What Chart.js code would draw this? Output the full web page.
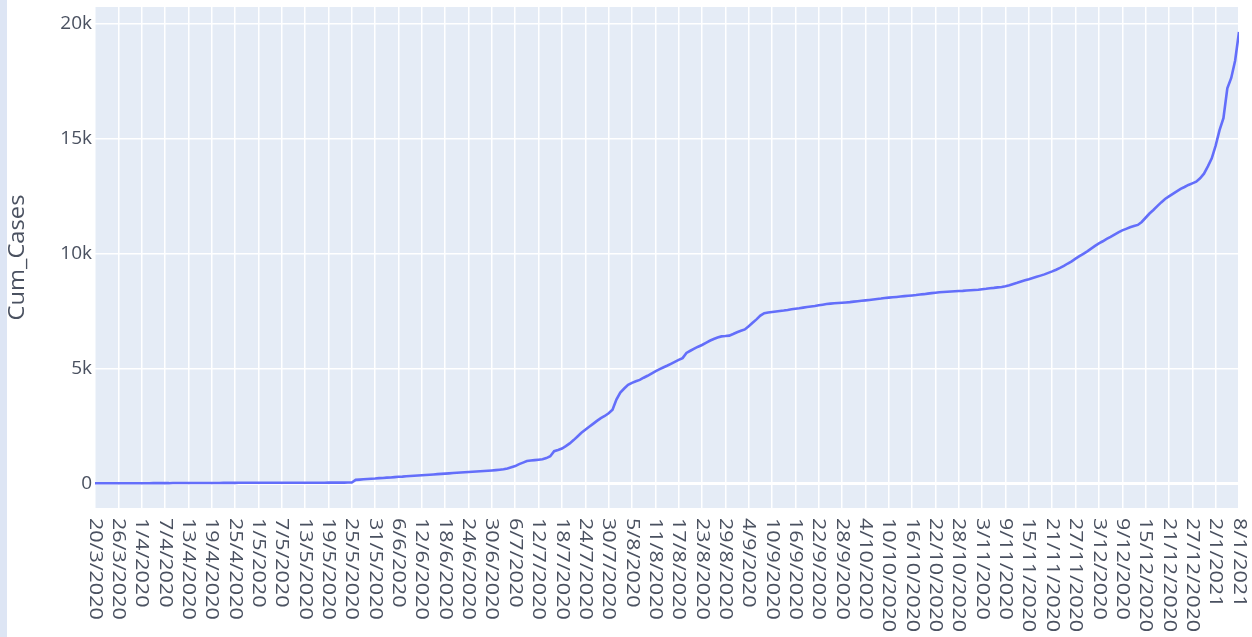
<!DOCTYPE html>
<html>
<head>
<meta charset="utf-8">
<script src="https://cdn.jsdelivr.net/npm/chart.js@4.4.1/dist/chart.umd.min.js"></script>
<style>
  html, body { margin: 0; padding: 0; background: #fff; }
  #wrap { position: relative; width: 1252px; height: 637px; overflow: hidden; }
  #strip { position: absolute; left: 0; top: 0; width: 7px; height: 637px; background: #dde5f4; }
  canvas { position: absolute; left: 0; top: 0; }
</style>
</head>
<body>
<div id="wrap">
  <canvas id="cumChart" width="1252" height="637"></canvas>
  <div id="strip"></div>
</div>
<script>
// tick labels on the date axis, one every 6 days (20/3/2020 .. 8/1/2021)
var tickLabels = [
  '20/3/2020', '26/3/2020', '1/4/2020', '7/4/2020', '13/4/2020', '19/4/2020', '25/4/2020',
  '1/5/2020', '7/5/2020', '13/5/2020', '19/5/2020', '25/5/2020', '31/5/2020', '6/6/2020',
  '12/6/2020', '18/6/2020', '24/6/2020', '30/6/2020', '6/7/2020', '12/7/2020', '18/7/2020',
  '24/7/2020', '30/7/2020', '5/8/2020', '11/8/2020', '17/8/2020', '23/8/2020', '29/8/2020',
  '4/9/2020', '10/9/2020', '16/9/2020', '22/9/2020', '28/9/2020', '4/10/2020', '10/10/2020',
  '16/10/2020', '22/10/2020', '28/10/2020', '3/11/2020', '9/11/2020', '15/11/2020',
  '21/11/2020', '27/11/2020', '3/12/2020', '9/12/2020', '15/12/2020', '21/12/2020',
  '27/12/2020', '2/1/2021', '8/1/2021'
];

// cumulative cases, one value per day from 20/3/2020
var cumCases = [
  0, 0, 0, 0, 0, 0, 0, 0, 0, 0,
  3, 4, 4, 4, 4, 6, 6, 6, 6, 6,
  13, 13, 13, 13, 13, 13, 13, 15, 15, 16,
  16, 16, 16, 20, 20, 20, 20, 22, 22, 22,
  22, 22, 22, 22, 22, 23, 23, 23, 23, 23,
  24, 24, 24, 24, 24, 24, 25, 25, 25, 25,
  29, 29, 30, 30, 30, 35, 35, 150, 162, 174,
  185, 199, 209, 224, 233, 247, 256, 271, 283, 292,
  305, 316, 329, 340, 352, 363, 376, 387, 399, 410,
  422, 433, 446, 457, 468, 480, 491, 503, 514, 524,
  535, 547, 561, 576, 592, 610, 648, 702, 750, 838,
  902, 968, 990, 1008, 1027, 1045, 1098, 1176, 1398, 1452,
  1513, 1618, 1739, 1881, 2037, 2198, 2331, 2462, 2589, 2718,
  2838, 2931, 3052, 3204, 3648, 3951, 4129, 4287, 4372, 4441,
  4502, 4598, 4683, 4779, 4877, 4962, 5041, 5118, 5203, 5288,
  5372, 5451, 5678, 5772, 5861, 5949, 6024, 6118, 6207, 6281,
  6349, 6398, 6412, 6431, 6502, 6579, 6641, 6702, 6843, 6992,
  7139, 7301, 7409, 7441, 7462, 7483, 7502, 7521, 7548, 7579,
  7601, 7622, 7650, 7679, 7701, 7722, 7751, 7779, 7808, 7824,
  7839, 7851, 7862, 7876, 7889, 7911, 7929, 7948, 7966, 7984,
  8004, 8026, 8044, 8066, 8084, 8101, 8115, 8131, 8149, 8166,
  8181, 8199, 8221, 8236, 8259, 8281, 8298, 8316, 8329, 8341,
  8352, 8361, 8372, 8381, 8394, 8406, 8417, 8431, 8452, 8469,
  8491, 8509, 8532, 8551, 8582, 8628, 8681, 8732, 8789, 8841,
  8889, 8942, 8991, 9043, 9098, 9162, 9228, 9301, 9379, 9468,
  9571, 9668, 9782, 9889, 9993, 10102, 10219, 10338, 10451, 10539,
  10642, 10731, 10829, 10928, 11012, 11079, 11148, 11203, 11251, 11382,
  11563, 11748, 11902, 12068, 12231, 12379, 12491, 12602, 12708, 12819,
  12902, 12991, 13062, 13131, 13279, 13482, 13798, 14152, 14703, 15381,
  15902, 17198, 17652, 18399, 19652
];

var yTicks = [0, 5000, 10000, 15000, 20000];
var yTitle = 'Cum_Cases';

var textColor = '#4a5160';
var stretch = 1.13; // the reference text is a bit taller than wide

// plot background
var plotBg = {
  id: 'plotBg',
  beforeDraw: function(chart) {
    var a = chart.chartArea, ctx = chart.ctx;
    ctx.save();
    ctx.fillStyle = '#E5ECF6';
    ctx.fillRect(a.left, a.top, a.right - a.left, a.bottom - a.top);
    ctx.restore();
  }
};

// date labels read top to bottom, and the y title
var sideText = {
  id: 'sideText',
  afterDraw: function(chart) {
    var ctx = chart.ctx, sx = chart.scales.x, a = chart.chartArea;
    ctx.save();
    ctx.fillStyle = textColor;
    ctx.font = '19px "Open Sans"';
    ctx.textAlign = 'left';
    ctx.textBaseline = 'middle';
    sx.ticks.forEach(function(t) {
      var lab = tickLabels[Math.round(t.value / 6)];
      if (!lab) return;
      ctx.save();
      ctx.translate(sx.getPixelForValue(t.value), a.bottom + 10);
      ctx.rotate(Math.PI / 2);
      ctx.scale(stretch, 1);
      ctx.fillText(lab, 0, 0);
      ctx.restore();
    });
    ctx.save();
    ctx.font = '21px "Open Sans"';
    ctx.textAlign = 'center';
    ctx.translate(18, (a.top + a.bottom) / 2);
    ctx.rotate(-Math.PI / 2);
    ctx.scale(stretch, 1);
    ctx.fillText(yTitle, 0, 0);
    ctx.restore();
    ctx.restore();
  }
};

var ctx = document.getElementById('cumChart').getContext('2d');
var points = [];
for (var i = 0; i < cumCases.length; i++) {
  points.push({ x: i, y: cumCases[i] });
}

window.myLine = new Chart(ctx, {
  type: 'line',
  data: {
    datasets: [{
      label: yTitle,
      data: points,
      borderColor: '#636efa',
      borderWidth: 2.6,
      pointRadius: 0,
      tension: 0,
      fill: false
    }]
  },
  options: {
    responsive: false,
    animation: false,
    layout: { padding: { left: 0, right: 13, top: 7, bottom: 0 } },
    plugins: { legend: { display: false }, tooltip: { enabled: false } },
    scales: {
      x: {
        type: 'linear',
        min: 0,
        max: cumCases.length - 1,
        border: { display: false },
        grid: { color: '#ffffff', lineWidth: 1.5, drawTicks: false },
        ticks: { display: false, stepSize: 6, autoSkip: false },
        afterFit: function(s) { s.height = 129; s.paddingLeft = 0; s.paddingRight = 0; }
      },
      y: {
        min: -1075,
        max: 20740,
        border: { display: false },
        grid: {
          color: '#ffffff',
          drawTicks: false,
          lineWidth: function(c) { return c.tick && c.tick.value === 0 ? 3 : 1.5; }
        },
        afterBuildTicks: function(s) {
          s.ticks = yTicks.map(function(v) { return { value: v }; });
        },
        ticks: {
          color: textColor,
          padding: 3,
          font: { family: 'Open Sans', size: 19 },
          callback: function(v) { return v === 0 ? '0' : (v / 1000) + 'k'; }
        },
        afterFit: function(s) { s.width = 95; s.paddingTop = 0; s.paddingBottom = 0; }
      }
    }
  },
  plugins: [plotBg, sideText]
});
</script>
</body>
</html>
